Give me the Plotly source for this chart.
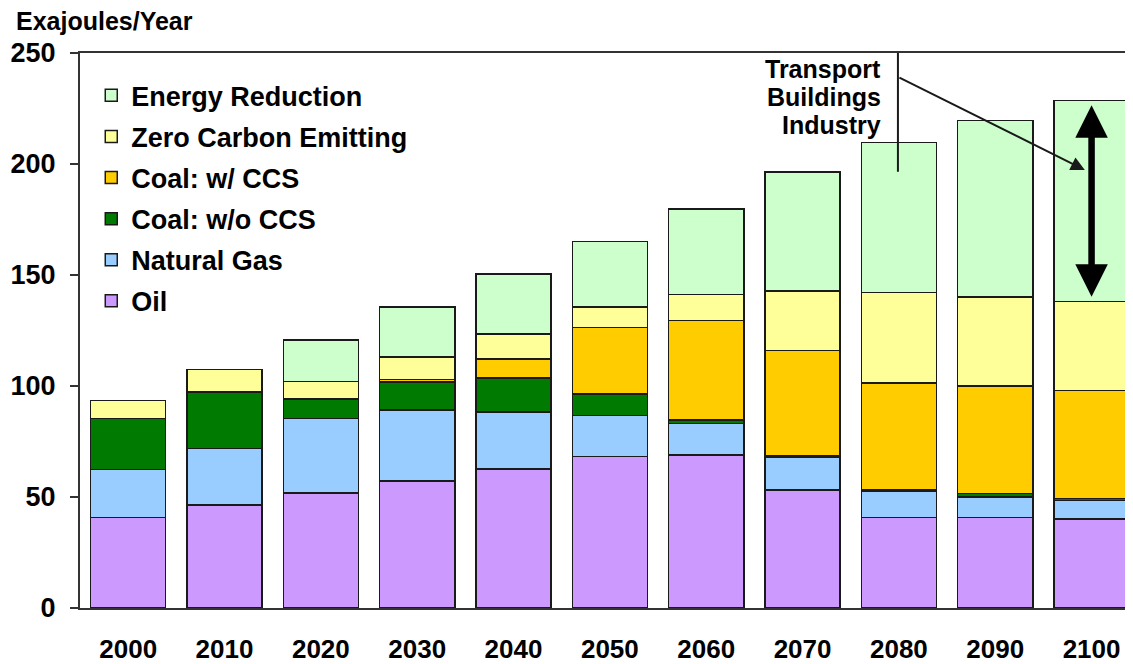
import plotly.graph_objects as go

years = ["2000", "2010", "2020", "2030", "2040", "2050", "2060", "2070", "2080", "2090", "2100"]
oil = [40.7, 46.4, 51.7, 57.1, 62.6, 68.2, 68.9, 53.2, 40.7, 40.7, 40.0]
natural_gas = [21.6, 25.5, 33.6, 32.1, 25.8, 18.6, 14.3, 14.5, 12.0, 9.3, 8.4]
coal_wo_ccs = [23.1, 25.4, 8.8, 12.6, 15.3, 9.6, 1.5, 0.8, 0.6, 1.6, 1.0]
coal_w_ccs = [0, 0, 0, 1.2, 8.5, 29.9, 44.7, 47.4, 48.0, 48.5, 48.5]
zero_carbon = [8.0, 10.2, 8.0, 10.0, 11.2, 9.4, 11.9, 26.9, 40.8, 40.1, 40.1]
energy_reduction = [0, 0, 18.6, 22.6, 27.1, 29.3, 38.4, 53.5, 67.6, 79.3, 90.5]

series = [
    ("Oil", oil, "#CC99FF"),
    ("Natural Gas", natural_gas, "#99CCFF"),
    ("Coal: w/o CCS", coal_wo_ccs, "#007A00"),
    ("Coal: w/ CCS", coal_w_ccs, "#FFCC00"),
    ("Zero Carbon Emitting", zero_carbon, "#FFFF99"),
    ("Energy Reduction", energy_reduction, "#CCFFCC"),
]
sector_lines = ["Transport", "Buildings", "Industry"]

FONT = "Liberation Sans, Arial, sans-serif"
xs = list(range(len(years)))

# page body has an 8px default margin; size the figure so the plot lands where intended
PLOT_W, PLOT_H = 1053, 555

fig = go.Figure()
n = len(series)
for i, (name, vals, color) in enumerate(series):
    fig.add_trace(go.Bar(
        x=xs, y=vals, name=name, legendgroup=name, legendrank=n - i,
        marker=dict(color=color, line=dict(color="#1a1a1a", width=1.5)),
    ))

fig.update_layout(
    width=1125, height=656,
    barmode="stack", bargap=0.22,
    paper_bgcolor="white", plot_bgcolor="white",
    margin=dict(l=72, r=0, t=45, b=56, autoexpand=False),
    font=dict(family=FONT, color="black"),
    showlegend=True,
    legend=dict(
        x=0.0107, y=0.967, xanchor="left", yanchor="top",
        traceorder="grouped", tracegroupgap=3,
        font=dict(family=FONT, size=27, color="black", weight="bold"),
        bgcolor="rgba(0,0,0,0)",
    ),
)

fig.update_xaxes(
    range=[-0.5, 10.43], automargin=False,
    tickmode="array", tickvals=xs, ticktext=years,
    showline=True, linecolor="#333333", linewidth=2, mirror=True,
    ticks="", showgrid=False, zeroline=False,
    tickfont=dict(family=FONT, size=26, color="black", weight="bold"),
    ticklabelstandoff=17,
)
fig.update_yaxes(
    range=[0, 250], tickvals=[0, 50, 100, 150, 200, 250], automargin=False,
    showline=True, linecolor="#333333", linewidth=2,
    ticks="outside", ticklen=8, tickwidth=2, tickcolor="#333333",
    showgrid=False, zeroline=False,
    tickfont=dict(family=FONT, size=27, color="black", weight="bold"),
    ticklabelstandoff=9,
)

# y-axis unit title
fig.add_annotation(
    text="Exajoules/Year", xref="paper", yref="paper",
    x=-66 / PLOT_W, y=1 + 32 / PLOT_H, xanchor="left", yanchor="middle",
    showarrow=False, font=dict(family=FONT, size=25, color="black", weight="bold"),
)

# Sector label (one annotation per line to keep tight line spacing)
for k, line in enumerate(sector_lines):
    fig.add_annotation(
        text=line, xref="x", yref="y",
        x=7.84, y=242.8 - k * 12.6, xanchor="right", yanchor="middle",
        showarrow=False, font=dict(family=FONT, size=25, color="black", weight="bold"),
    )
# vertical pointer line into 2080 bar
fig.add_shape(type="line", xref="x", yref="y", x0=7.99, x1=7.99, y0=250, y1=196.5,
              line=dict(color="#1a1a1a", width=2))
# diagonal arrow towards 2100 bar
fig.add_annotation(
    x=9.93, y=197.3, ax=7.99, ay=239.2, xref="x", yref="y", axref="x", ayref="y",
    text="", showarrow=True, arrowhead=2, arrowsize=1.4, arrowwidth=2, arrowcolor="#1a1a1a",
    standoff=0, startstandoff=0,
)

# thick double-headed arrow over energy reduction of 2100
last = len(years) - 1
top_total = oil[last] + natural_gas[last] + coal_wo_ccs[last] + coal_w_ccs[last] + zero_carbon[last] + energy_reduction[last]
base_er = top_total - energy_reduction[last]
fig.add_annotation(
    x=last, y=top_total - 2, ax=last, ay=base_er + 1.5, xref="x", yref="y", axref="x", ayref="y",
    text="", showarrow=True, arrowhead=2, startarrowhead=2, arrowside="end+start",
    arrowsize=1.0, startarrowsize=1.0, arrowwidth=6.5, arrowcolor="black",
    standoff=0, startstandoff=0,
)

fig.write_html("out.html")
